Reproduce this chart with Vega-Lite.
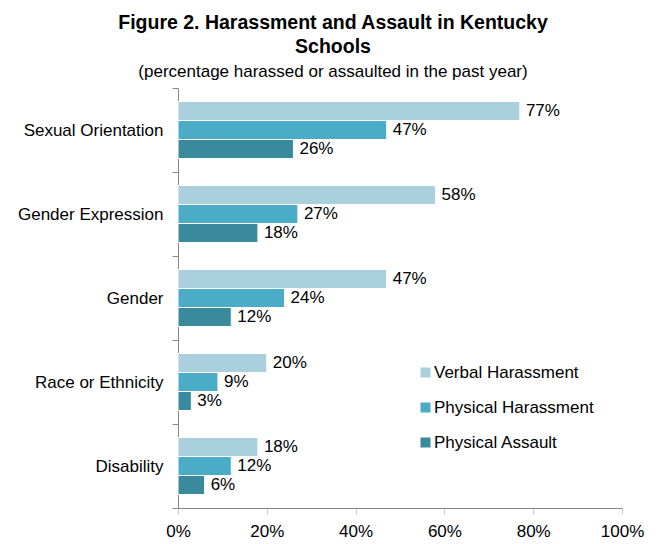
{
  "$schema": "https://vega.github.io/schema/vega-lite/v6.json",
  "width": 444,
  "height": 420,
  "autosize": {"type": "none"},
  "padding": {"left": 178, "top": 88, "right": 37, "bottom": 36},
  "background": "white",
  "config": {"view": {"stroke": null}},
  "title": {
    "text": ["Figure 2. Harassment and Assault in Kentucky", "Schools"],
    "subtitle": "(percentage harassed or assaulted in the past year)",
    "anchor": "middle",
    "dx": -67,
    "offset": -2,
    "font": "Liberation Sans",
    "fontSize": 19.5,
    "fontWeight": "bold",
    "lineHeight": 24,
    "color": "black",
    "subtitleFont": "Liberation Sans",
    "subtitleFontSize": 17,
    "subtitleColor": "black",
    "subtitlePadding": 7
  },
  "data": {
    "values": [
      {"category": "Sexual Orientation", "type": "Verbal Harassment", "value": 0.77},
      {"category": "Sexual Orientation", "type": "Physical Harassment", "value": 0.47},
      {"category": "Sexual Orientation", "type": "Physical Assault", "value": 0.26},
      {"category": "Gender Expression", "type": "Verbal Harassment", "value": 0.58},
      {"category": "Gender Expression", "type": "Physical Harassment", "value": 0.27},
      {"category": "Gender Expression", "type": "Physical Assault", "value": 0.18},
      {"category": "Gender", "type": "Verbal Harassment", "value": 0.47},
      {"category": "Gender", "type": "Physical Harassment", "value": 0.24},
      {"category": "Gender", "type": "Physical Assault", "value": 0.12},
      {"category": "Race or Ethnicity", "type": "Verbal Harassment", "value": 0.20},
      {"category": "Race or Ethnicity", "type": "Physical Harassment", "value": 0.09},
      {"category": "Race or Ethnicity", "type": "Physical Assault", "value": 0.03},
      {"category": "Disability", "type": "Verbal Harassment", "value": 0.18},
      {"category": "Disability", "type": "Physical Harassment", "value": 0.12},
      {"category": "Disability", "type": "Physical Assault", "value": 0.06}
    ]
  },
  "encoding": {
    "y": {
      "field": "category",
      "type": "nominal",
      "sort": ["Sexual Orientation", "Gender Expression", "Gender", "Race or Ethnicity", "Disability"],
      "scale": {"paddingInner": 0, "paddingOuter": 0},
      "axis": {
        "title": null,
        "tickBand": "extent",
        "domainColor": "#888888",
        "tickColor": "#888888",
        "tickSize": 6,
        "labelPadding": 9,
        "labelFont": "Liberation Sans",
        "labelFontSize": 17,
        "labelColor": "black"
      }
    },
    "yOffset": {
      "field": "type",
      "type": "nominal",
      "sort": ["Verbal Harassment", "Physical Harassment", "Physical Assault"],
      "scale": {"paddingInner": 0, "paddingOuter": 0.71}
    },
    "x": {
      "field": "value",
      "type": "quantitative",
      "scale": {"domain": [0, 1]},
      "axis": {
        "title": null,
        "format": ".0%",
        "values": [0, 0.2, 0.4, 0.6, 0.8, 1],
        "grid": false,
        "labelFlush": false,
        "domainColor": "#888888",
        "tickColor": "#cccccc",
        "tickSize": 6,
        "labelPadding": 9,
        "labelFont": "Liberation Sans",
        "labelFontSize": 17,
        "labelColor": "black"
      }
    }
  },
  "layer": [
    {
      "mark": {"type": "bar", "stroke": "white", "strokeWidth": 1},
      "encoding": {
        "color": {
          "field": "type",
          "type": "nominal",
          "sort": ["Verbal Harassment", "Physical Harassment", "Physical Assault"],
          "scale": {
            "domain": ["Verbal Harassment", "Physical Harassment", "Physical Assault"],
            "range": ["#aacfdd", "#4aacc6", "#3a8a9e"]
          },
          "legend": {
            "title": null,
            "orient": "none",
            "legendX": 239,
            "legendY": 276,
            "symbolType": "square",
            "symbolSize": 100,
            "symbolStrokeWidth": 0,
            "labelFont": "Liberation Sans",
            "labelFontSize": 17,
            "labelColor": "black",
            "labelOffset": 0,
            "rowPadding": 17
          }
        }
      }
    },
    {
      "mark": {
        "type": "text",
        "align": "left",
        "baseline": "middle",
        "dx": 6,
        "font": "Liberation Sans",
        "fontSize": 17,
        "color": "black"
      },
      "encoding": {
        "text": {"field": "value", "type": "quantitative", "format": ".0%"}
      }
    }
  ]
}
